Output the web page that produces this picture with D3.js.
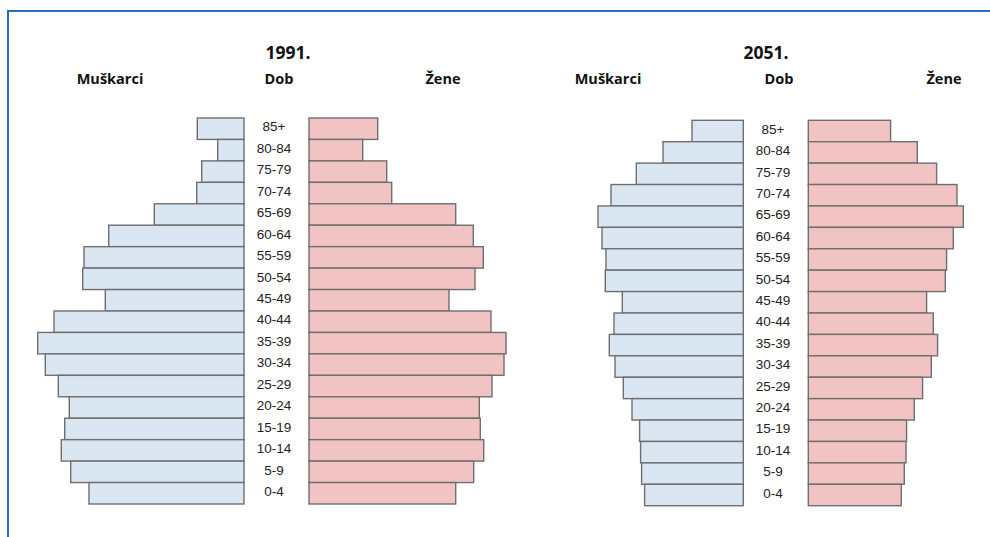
<!DOCTYPE html>
<html>
<head>
<meta charset="utf-8">
<script src="https://cdn.jsdelivr.net/npm/d3@7"></script>
<style>
  body { margin: 0; background: #fff; }
  .head { font-family: "Open Sans", sans-serif; font-weight: bold; fill: #111; }
  .age text { font-family: "Liberation Sans", Arial, sans-serif; font-size: 13.5px; fill: #222; }
</style>
</head>
<body>
<div id="chart"></div>
<script>
// age groups, oldest at the top
const ageGroups = ["85+", "80-84", "75-79", "70-74", "65-69", "60-64", "55-59", "50-54", "45-49",
                   "40-44", "35-39", "30-34", "25-29", "20-24", "15-19", "10-14", "5-9", "0-4"];

// bar lengths (same order as ageGroups)
const male1991   = [46.7, 26.3, 42.3, 47.3, 89.7, 135.3, 160, 161.3, 138.7, 190, 206.3, 198.7, 185.7, 174.7, 179.3, 182.7, 173.3, 155];
const female1991 = [68.7, 53.7, 77.7, 82.7, 146.7, 164.3, 174.3, 166, 140, 182, 197, 195, 183, 170.3, 171.3, 174.7, 164.7, 146.7];
const male2051   = [51.3, 80.3, 107, 132.3, 145.3, 141.3, 137.3, 138, 121, 129.3, 134, 128.3, 120, 111.3, 103.7, 102.7, 101.7, 98.7];
const female2051 = [82.3, 109, 128.3, 148.7, 155, 145, 138.3, 137, 118.3, 125, 129.3, 123, 114.3, 106, 98.3, 97.7, 96, 93];

const width = 990;
const height = 537;

const svg = d3.select("#chart")
    .append("svg")
    .attr("width", width)
    .attr("height", height);

// blue frame lines (top and left only)
svg.append("line")
    .attr("x1", 8).attr("y1", 11).attr("x2", width).attr("y2", 11)
    .style("stroke", "#2a70b8").style("stroke-width", 2);
svg.append("line")
    .attr("x1", 8).attr("y1", 10).attr("x2", 8).attr("y2", height)
    .style("stroke", "#2a70b8").style("stroke-width", 2);

function drawPyramid(opt) {
    const g = svg.append("g");

    const y = d3.scaleBand()
        .domain(ageGroups)
        .range([opt.top, opt.bottom])
        .padding(0);

    // same px-per-unit on both sides
    const x = d3.scaleLinear()
        .domain([0, 210])
        .range([0, 210]);

    // men, growing to the left
    g.append("g").selectAll("rect")
        .data(opt.male)
        .enter().append("rect")
            .attr("x", d => opt.maleEdge - x(d))
            .attr("y", (d, i) => y(ageGroups[i]))
            .attr("width", d => x(d))
            .attr("height", y.bandwidth())
            .attr("fill", "#dae6f2")
            .attr("stroke", "#6f6f6f")
            .attr("stroke-width", 1.4);

    // women, growing to the right
    g.append("g").selectAll("rect")
        .data(opt.female)
        .enter().append("rect")
            .attr("x", opt.femaleEdge)
            .attr("y", (d, i) => y(ageGroups[i]))
            .attr("width", d => x(d))
            .attr("height", y.bandwidth())
            .attr("fill", "#f2c3c3")
            .attr("stroke", "#6f6f6f")
            .attr("stroke-width", 1.4);

    // age labels in the middle
    const axis = g.append("g")
        .attr("class", "age")
        .attr("transform", `translate(${opt.labelX}, 0)`)
        .call(d3.axisLeft(y).tickSize(0).tickPadding(0));
    axis.select(".domain").remove();
    axis.selectAll("text")
        .style("text-anchor", "middle")
        .attr("dy", "0.2em");

    // titles
    g.append("text").attr("class", "head")
        .attr("x", opt.yearX).attr("y", 59)
        .attr("text-anchor", "middle")
        .style("font-size", "17.5px")
        .text(opt.year);
    g.append("text").attr("class", "head")
        .attr("x", opt.menX).attr("y", 84)
        .attr("text-anchor", "middle")
        .style("font-size", "14.5px")
        .text("Muškarci");
    g.append("text").attr("class", "head")
        .attr("x", opt.dobX).attr("y", 84)
        .attr("text-anchor", "middle")
        .style("font-size", "14.5px")
        .text("Dob");
    g.append("text").attr("class", "head")
        .attr("x", opt.womenX).attr("y", 84)
        .attr("text-anchor", "middle")
        .style("font-size", "14.5px")
        .text("Žene");
}

drawPyramid({
    year: "1991.", male: male1991, female: female1991,
    maleEdge: 244, femaleEdge: 309, labelX: 274,
    top: 118, bottom: 504,
    yearX: 288, menX: 110, dobX: 279, womenX: 443
});

drawPyramid({
    year: "2051.", male: male2051, female: female2051,
    maleEdge: 743.3, femaleEdge: 808.3, labelX: 773,
    top: 120.3, bottom: 505.7,
    yearX: 766, menX: 608, dobX: 779, womenX: 944
});
</script>
</body>
</html>
